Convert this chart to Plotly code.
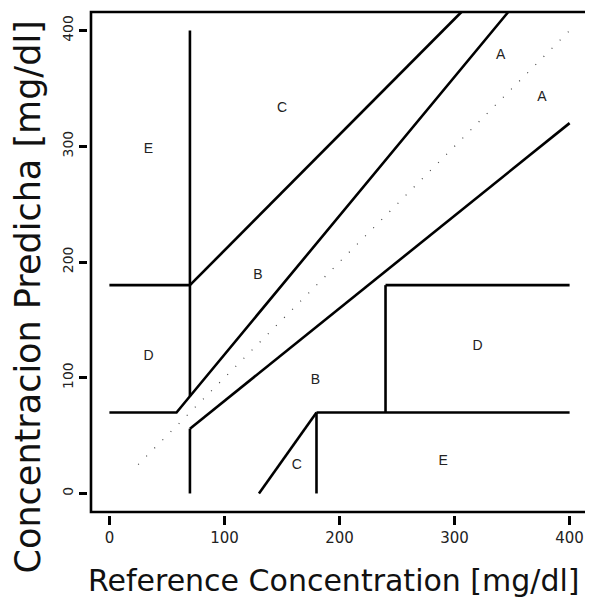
import plotly.graph_objects as go

# Clarke error grid zone boundaries (reference vs predicted, mg/dl)
seg_x = [
    [0, 175/3, 70, 346.67],      # upper A/B boundary (y=1.2x) with flat start
    [70, 70],                    # vertical x=70 (upper)
    [0, 70],                     # horizontal y=180 left
    [70, 306],                   # upper B/C boundary
    [70, 70],                    # vertical x=70 (lower)
    [70, 400],                   # lower A/B boundary
    [130, 180],                  # lower C boundary
    [180, 180],                  # vertical x=180
    [180, 400],                  # horizontal y=70 right
    [240, 240],                  # vertical x=240
    [240, 400],                  # horizontal y=180 right
]
seg_y = [
    [70, 70, 84, 416],
    [84, 400],
    [180, 180],
    [180, 416],
    [0, 56],
    [56, 320],
    [0, 70],
    [0, 70],
    [70, 70],
    [70, 180],
    [180, 180],
]

identity_x = [25, 400]
identity_y = [25, 400]

zone_labels = ["A", "A", "B", "B", "C", "C", "D", "D", "E", "E"]
label_x = [340, 376, 129, 179, 150, 163, 34, 320, 34, 290]
label_y = [378, 342, 188, 98, 333, 24, 118, 127, 297, 28]

x_ticks = [0, 100, 200, 300, 400]
y_ticks = [0, 100, 200, 300, 400]
box_lo, box_hi = -16, 416

xs, ys = [], []
for sx, sy in zip(seg_x, seg_y):
    xs += sx + [None]
    ys += sy + [None]

fig = go.Figure()
fig.add_trace(go.Scatter(x=identity_x, y=identity_y, mode="lines",
                         line=dict(color="#444444", width=1.2, dash="1px,10.5px"),
                         hoverinfo="skip", showlegend=False))
fig.add_trace(go.Scatter(x=xs, y=ys, mode="lines",
                         line=dict(color="black", width=2.6),
                         hoverinfo="skip", showlegend=False))
fig.add_trace(go.Scatter(x=label_x, y=label_y, mode="text", text=zone_labels,
                         textfont=dict(family="Liberation Sans", size=14, color="#222222"),
                         hoverinfo="skip", showlegend=False))

fig.add_shape(type="rect", xref="x", yref="y", x0=box_lo, x1=box_hi, y0=box_lo, y1=box_hi,
              line=dict(color="black", width=2.6), layer="above")

fig.update_xaxes(range=[-18.6, 418.6], tickvals=x_ticks, ticks="outside", ticklen=9,
                 tickwidth=2.5, tickcolor="black", showline=False, showgrid=False,
                 zeroline=False, automargin=False,
                 tickfont=dict(family="DejaVu Sans", size=15, color="#222222"))
fig.update_yaxes(range=[-18.6, 418.6], tickvals=y_ticks, ticks="outside", ticklen=8,
                 tickwidth=2.5, tickcolor="black", showline=False, showgrid=False,
                 zeroline=False, tickangle=-90, automargin=False,
                 tickfont=dict(family="DejaVu Sans", size=14, color="#222222"))

fig.add_annotation(text="Reference Concentration [mg/dl]", xref="paper", yref="paper",
                   x=0.49, y=0, yanchor="top", yshift=-46, showarrow=False,
                   font=dict(family="DejaVu Sans", size=30, color="#111111"))
fig.add_annotation(text="Concentracion Predicha [mg/dl]", xref="paper", yref="paper",
                   x=0, y=0.43, xanchor="right", xshift=-39, textangle=-90, showarrow=False,
                   borderpad=0,
                   font=dict(family="DejaVu Sans", size=35, color="#111111"))

fig.update_layout(width=585, height=589, margin=dict(l=80, r=2, t=1, b=82),
                  plot_bgcolor="white", paper_bgcolor="white")
fig.write_html("out.html")
